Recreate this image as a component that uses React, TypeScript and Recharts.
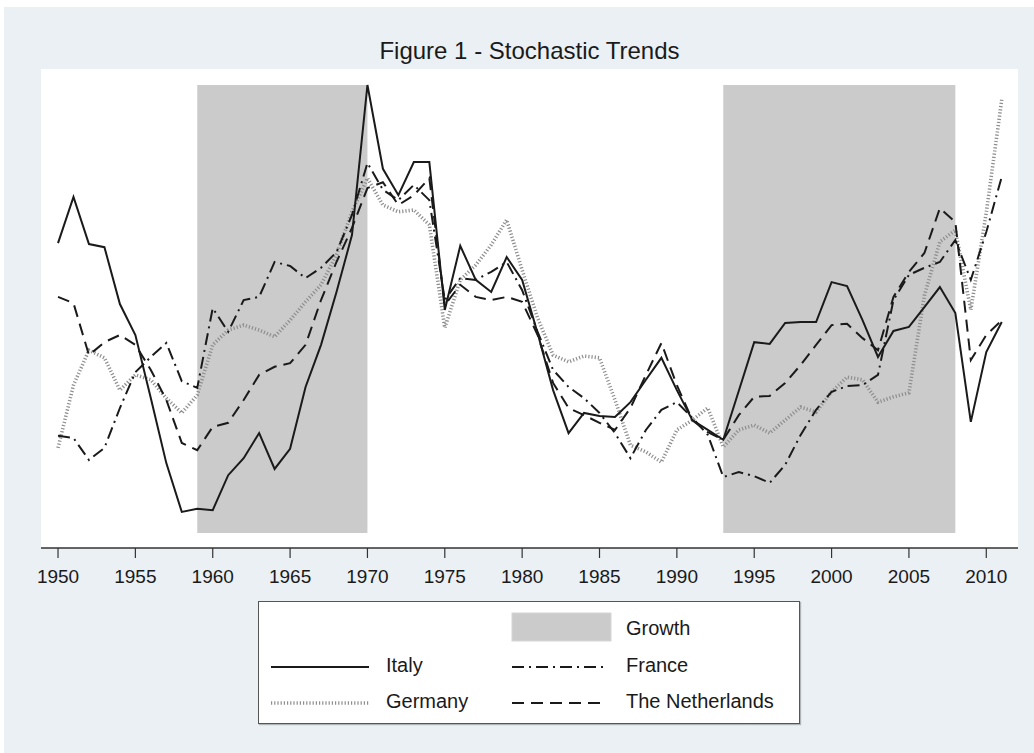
import React from 'react';
import {
  ComposedChart,
  Line,
  XAxis,
  YAxis,
  ReferenceArea,
} from 'recharts';

// index values (0 = bottom of shaded band, 100 = top)
const years = [
  1950, 1951, 1952, 1953, 1954, 1955, 1956, 1957, 1958, 1959,
  1960, 1961, 1962, 1963, 1964, 1965, 1966, 1967, 1968, 1969,
  1970, 1971, 1972, 1973, 1974, 1975, 1976, 1977, 1978, 1979,
  1980, 1981, 1982, 1983, 1984, 1985, 1986, 1987, 1988, 1989,
  1990, 1991, 1992, 1993, 1994, 1995, 1996, 1997, 1998, 1999,
  2000, 2001, 2002, 2003, 2004, 2005, 2006, 2007, 2008, 2009,
  2010, 2011,
];

const italy = [
  64.7, 75.0, 64.5, 63.8, 51.1, 44.2, 30.1, 15.6, 4.7, 5.4,
  5.1, 12.9, 16.7, 22.3, 14.3, 18.8, 32.6, 42.0, 53.8, 66.5,
  100, 81.3, 75.4, 82.8, 82.8, 49.8, 64.1, 56.5, 53.8, 61.6,
  56.5, 44.6, 31.9, 22.3, 26.8, 26.1, 25.9, 29.2, 34.2, 39.1,
  31.9, 25.2, 23.0, 20.8, 31.7, 42.6, 42.2, 46.9, 47.1, 47.1,
  56.0, 55.1, 47.5, 39.3, 45.1, 46.0, 50.4, 54.9, 49.1, 24.8,
  40.4, 47.1,
];

const germany = [
  19.0, 33.0, 40.8, 39.1, 31.9, 35.3, 34.2, 30.1, 26.8, 30.8,
  42.0, 45.3, 46.4, 45.3, 43.8, 47.5, 51.6, 55.4, 62.1, 71.7,
  79.2, 73.2, 71.7, 72.1, 68.8, 45.8, 56.5, 59.8, 64.3, 69.9,
  58.7, 48.0, 39.7, 38.2, 39.5, 39.1, 29.7, 19.6, 18.1, 15.8,
  23.0, 25.2, 27.9, 19.2, 23.0, 24.1, 22.3, 25.2, 28.1, 27.0,
  31.5, 34.8, 34.2, 29.2, 30.4, 31.3, 53.0, 65.0, 67.6, 49.8,
  71.5, 96.7,
];

const france = [
  21.7, 21.2, 16.3, 19.0, 27.9, 35.9, 39.3, 42.4, 33.9, 32.4,
  50.2, 44.9, 52.0, 52.7, 60.5, 59.6, 56.9, 59.2, 62.7, 71.0,
  82.6, 76.6, 74.3, 77.7, 74.3, 52.0, 56.9, 56.5, 58.3, 60.5,
  54.2, 44.9, 36.4, 32.6, 30.1, 26.8, 22.3, 16.7, 23.0, 27.5,
  29.2, 25.7, 21.9, 12.5, 13.6, 12.7, 11.2, 15.2, 21.9, 27.5,
  31.5, 32.8, 33.0, 35.3, 52.0, 57.6, 59.2, 60.5, 65.4, 56.5,
  67.2, 79.5,
];

const netherlands = [
  52.7, 51.3, 39.7, 42.6, 44.2, 42.0, 36.4, 29.7, 20.1, 18.5,
  23.7, 24.6, 29.7, 35.3, 37.1, 37.9, 42.0, 52.0, 60.5, 68.1,
  77.0, 78.3, 73.2, 75.4, 79.2, 50.9, 55.4, 52.7, 52.0, 52.7,
  51.6, 44.2, 33.5, 27.9, 26.3, 24.6, 23.0, 27.9, 35.3, 42.4,
  33.0, 25.2, 22.5, 20.8, 26.3, 30.4, 30.6, 33.5, 37.5, 42.0,
  46.4, 46.7, 43.5, 40.8, 52.7, 58.3, 62.5, 72.5, 69.4, 38.6,
  44.2, 47.5,
];

const growthPeriods = [
  [1959, 1970],
  [1993, 2008],
];

const xTicks = [1950, 1955, 1960, 1965, 1970, 1975, 1980, 1985, 1990, 1995, 2000, 2005, 2010];

const data = years.map((year, i) => ({
  year,
  italy: italy[i],
  germany: germany[i],
  france: france[i],
  netherlands: netherlands[i],
}));

const FONT = '"Liberation Sans", Arial, Helvetica, sans-serif';
const BG = '#eaf0f4';
const SHADE = '#cbcbcb';
const INK = '#1a1a1a';

const styles = {
  italy: { stroke: INK, strokeWidth: 2 },
  germany: { stroke: '#8e8e8e', strokeWidth: 3.6, strokeDasharray: '1.2 2' },
  france: { stroke: INK, strokeWidth: 2, strokeDasharray: '12 5 2 5' },
  netherlands: { stroke: INK, strokeWidth: 2, strokeDasharray: '12 7' },
};

const LegendBox: React.FC = () => (
  <div
    style={{
      position: 'absolute',
      left: 258,
      top: 601,
      width: 542,
      height: 123,
      background: '#fff',
      border: '1px solid #555',
      boxShadow: '1px 1px 1px rgba(0,0,0,0.25)',
      boxSizing: 'border-box',
    }}
  >
    <svg width={540} height={121} style={{ fontFamily: FONT, fontSize: 20 }}>
      <rect x={253} y={11} width={99} height={28} fill={SHADE} stroke="#d6d6d6" />
      <text x={367} y={28} dominantBaseline="middle" fill={INK}>Growth</text>

      <line x1={12} x2={110} y1={65} y2={65} {...styles.italy} />
      <text x={127} y={65} dominantBaseline="middle" fill={INK}>Italy</text>
      <line x1={253} x2={346} y1={65} y2={65} {...styles.france} />
      <text x={367} y={65} dominantBaseline="middle" fill={INK}>France</text>

      <line x1={12} x2={110} y1={101} y2={101} {...styles.germany} />
      <text x={127} y={101} dominantBaseline="middle" fill={INK}>Germany</text>
      <line x1={253} x2={346} y1={101} y2={101} {...styles.netherlands} />
      <text x={367} y={101} dominantBaseline="middle" fill={INK}>The Netherlands</text>
    </svg>
  </div>
);

export default function App() {
  return (
    <div style={{ position: 'absolute', left: 0, top: 0, width: 1034, height: 753, background: '#fff', fontFamily: FONT }}>
      <div style={{ position: 'absolute', left: 4, top: 7, width: 1030, height: 746, background: BG }} />
      {/* white plot region */}
      <div style={{ position: 'absolute', left: 41, top: 69, width: 977, height: 479, background: '#fff' }} />
      <div
        style={{
          position: 'absolute',
          top: 37,
          left: 0,
          width: 1059,
          textAlign: 'center',
          fontSize: 24,
          color: INK,
        }}
      >
        Figure 1 - Stochastic Trends
      </div>
      <div style={{ position: 'absolute', left: 0, top: 0 }}>
        <ComposedChart
          width={1034}
          height={753}
          data={data}
          margin={{ top: 70, right: 16, bottom: 175, left: 41 }}
        >
          <XAxis
            dataKey="year"
            type="number"
            domain={[1948.9, 2012.05]}
            ticks={xTicks}
            allowDataOverflow
            height={30}
            tickSize={10}
            tickMargin={12}
            axisLine={{ stroke: '#333', strokeWidth: 1.5 }}
            tickLine={{ stroke: '#333', strokeWidth: 1.2 }}
            tick={{ fill: INK, fontSize: 19, fontFamily: FONT }}
          />
          <YAxis
            type="number"
            domain={[-3.35, 103.35]}
            allowDataOverflow
            width={0}
            tick={false}
            tickLine={false}
            axisLine={{ stroke: '#333', strokeWidth: 1.5 }}
          />
          {growthPeriods.map(([a, b]) => (
            <ReferenceArea key={a} x1={a} x2={b} y1={0} y2={100} fill={SHADE} fillOpacity={1} stroke="none" />
          ))}
          <Line type="linear" dataKey="germany" dot={false} isAnimationActive={false} {...styles.germany} />
          <Line type="linear" dataKey="france" dot={false} isAnimationActive={false} {...styles.france} />
          <Line type="linear" dataKey="netherlands" dot={false} isAnimationActive={false} {...styles.netherlands} />
          <Line type="linear" dataKey="italy" dot={false} isAnimationActive={false} {...styles.italy} />
        </ComposedChart>
      </div>
      <LegendBox />
    </div>
  );
}
